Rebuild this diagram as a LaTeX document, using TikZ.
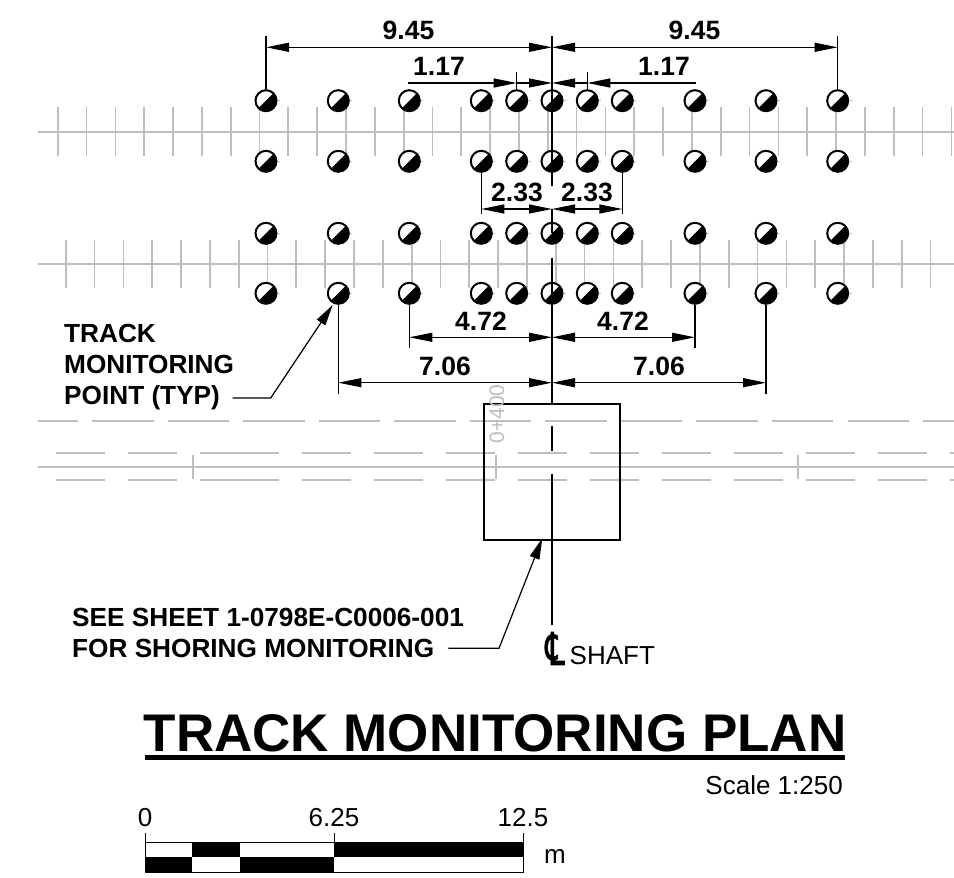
\documentclass[tikz,border=0pt]{standalone}
\usepackage{fontspec}
\setmainfont{Liberation Sans}
\newfontfamily\djv{DejaVu Sans}[FakeBold=2]
\usetikzlibrary{arrows.meta}
\definecolor{trackgray}{HTML}{BEBEBE}
\newcommand{\fs}[1]{\fontsize{#1}{#1}\selectfont}
\tikzset{
  x=1pt,y=-1pt,
  track/.style={draw=trackgray,line width=1.7pt},
  dim/.style={draw=black,line width=1.2pt},
  ext/.style={draw=black,line width=1.4pt},
  dimarrow/.style={dim,-{Triangle[length=23pt,width=9pt]}},
  bothdim/.style={dim,{Triangle[length=23pt,width=9pt]}-{Triangle[length=23pt,width=9pt]}},
  lead/.style={draw=black,line width=1.2pt,-{Triangle[length=21pt,width=10pt]}},
  dimtxt/.style={font=\fs{26.5}\bfseries,inner sep=0pt},
  note/.style={font=\fs{26.2}\bfseries,inner sep=0pt,anchor=base west},
  plain/.style={font=\fs{26},inner sep=0pt},
  marktick/.style={draw=trackgray,line width=0.7pt},
  point/.style={circle,draw=black,line width=2pt,fill=white,minimum size=21pt,inner sep=0pt,
    path picture={\fill[black] (path picture bounding box.south west) -- (path picture bounding box.north east) -- (path picture bounding box.south east) -- cycle;}},
}
\begin{document}
\begin{tikzpicture}
\useasboundingbox (0,0) rectangle (954,878);
% tracks
\foreach \i in {0,...,31}{\draw[track] ({57.7+28.83*\i},107) -- ({57.7+28.83*\i},156);}
\draw[track] (38,131.7) -- (954,131.7);
\foreach \i in {0,...,30}{\draw[track] ({65.7+28.83*\i},240) -- ({65.7+28.83*\i},288);}
\draw[track] (38,264) -- (954,264);
% lower tracks
\draw[track] (38,421) -- (78,421);
\foreach \i in {0,...,10}{\draw[track] ({92+75.55*\i},421) -- ({153.5+75.55*\i},421);}
\draw[track] (923,421) -- (954,421);
\draw[track] (38,467) -- (954,467);
\foreach \y in {453,480}{
  \foreach \a/\b in {56/105,128/177,200/279,302/351,374/423,446/495,518/567,590/639,662/711,734/783,806/855,878/927,950/954}{
    \draw[track] (\a,\y) -- (\b,\y);}
}
\foreach \x in {193.3,496,798.3}{\draw[track] (\x,455) -- (\x,479);}
% shaft box
\node[draw=black,line width=1.7pt,minimum width=136.3pt,minimum height=136pt,inner sep=0pt] (shaft) at (551.85,472) {};
\node[rotate=90,text=trackgray,font=\fs{21},inner sep=0pt] (chain) at (497,414) {0+400};
% monitoring points
\foreach \x [count=\c] in {266,338.3,409.3,481.3,516.7,552,587.3,622.3,695,766,837.7}{
  \foreach \y [count=\r] in {100.7,161.3,233.3,293.3}{
    \node[point] (p\r-\c) at (\x,\y) {};
    \draw[marktick] (p\r-\c.east) -- ++(2.5,0);
  }
}
% centre line
\coordinate (cltop) at (552,35.5);
\coordinate (clgapa) at (552,186);
\coordinate (clb) at (552,209);
\coordinate (clc) at (552,233);
\coordinate (cld) at (552,257.5);
\coordinate (cle) at (552,426);
\coordinate (clf) at (552,451);
\coordinate (clg) at (552,473.5);
\coordinate (clh) at (552,625);
\draw[ext] (cltop) -- (clgapa);
\draw[ext] (clb) -- (clc);
\draw[ext] (cld) -- (shaft.north -| cld);
\draw[ext] (cle) -- (clf);
\draw[ext] (clg) -- (clh);
% 9.45
\coordinate (a1) at (266,47.3); \coordinate (a2) at (552,47.3); \coordinate (a3) at (837.7,47.3);
\draw[ext] (p1-1.north) -- (266,36);
\draw[dim] (p1-11.north) -- (837.7,36);
\draw[bothdim] (a1) -- (a2);
\draw[bothdim] (a2) -- (a3);
\node[dimtxt] (t945a) at (408.5,30.7) {9.45};
\node[dimtxt] (t945b) at (694.5,30.7) {9.45};
% 1.17
\coordinate (b0) at (407.7,83); \coordinate (b1) at (516.7,83); \coordinate (b2) at (552,83);
\coordinate (b3) at (587.3,83); \coordinate (b4) at (696,83);
\draw[dim] (p1-5.north) -- (516.7,71.7);
\draw[dim] (p1-7.north) -- (587.3,71.7);
\draw[dimarrow] (b0) -- (b1);
\draw[dimarrow] (b1) -- (b2);
\draw[dimarrow] (b4) -- (b3);
\draw[dimarrow] (b3) -- (b2);
\node[dimtxt] (t117a) at (439,66.7) {1.17};
\node[dimtxt] (t117b) at (664,66.7) {1.17};
% 2.33
\coordinate (c1) at (481.3,209); \coordinate (c2) at (552,209); \coordinate (c3) at (622.3,209);
\draw[ext] (p2-4.south) -- (481.3,214);
\draw[ext] (p2-8.south) -- (622.3,214);
\draw[bothdim] (c1) -- (c2);
\draw[bothdim] (c2) -- (c3);
\node[dimtxt] (t233a) at (517,192) {2.33};
\node[dimtxt] (t233b) at (587,192) {2.33};
% 4.72
\coordinate (d1) at (409.3,337.3); \coordinate (d2) at (552,337.3); \coordinate (d3) at (695,337.3);
\draw[ext] (p4-3.south) -- (409.3,348);
\draw[ext] (p4-9.south) -- (695,348);
\draw[bothdim] (d1) -- (d2);
\draw[bothdim] (d2) -- (d3);
\node[dimtxt] (t472a) at (481,321) {4.72};
\node[dimtxt] (t472b) at (623,321) {4.72};
% 7.06
\coordinate (e1) at (338.3,382.7); \coordinate (e2) at (552,382.7); \coordinate (e3) at (766,382.7);
\draw[ext] (p4-2.south) -- (338.3,394);
\draw[ext] (p4-10.south) -- (766,394);
\draw[bothdim] (e1) -- (e2);
\draw[bothdim] (e2) -- (e3);
\node[dimtxt] (t706a) at (445,366) {7.06};
\node[dimtxt] (t706b) at (659,366) {7.06};
% notes
\node[note] (n1) at (64,342) {TRACK};
\node[note] (n2) at (64,373) {MONITORING};
\node[note] (n3) at (64,404) {POINT (TYP)};
\coordinate (l1) at (232.7,398); \coordinate (l2) at (270.7,398); \coordinate (l3) at (332.7,305);
\draw[lead] (l1) -- (l2) -- (l3);
\node[note] (n4) at (72,626) {SEE SHEET 1-0798E-C0006-001};
\node[note] (n5) at (72,657) {FOR SHORING MONITORING};
\coordinate (m1) at (448.3,648.3); \coordinate (m2) at (499,648.3); \coordinate (m3) at (542.3,538.3);
\draw[lead] (m1) -- (m2) -- (m3);
% CL
\node[inner sep=0pt,font=\djv\fs{30}] (cl) at (555,648.5) {\scalebox{1}[1.5]{℄}};
\node[plain,anchor=base west] (shafttxt) at (569.5,664) {SHAFT};
% title
\node[inner sep=0pt,font=\fs{53}\bfseries] (title) at (495,733) {TRACK MONITORING PLAN};
\coordinate (u1) at (145,757.5); \coordinate (u2) at (845,757.5);
\draw[black,line width=5pt] (u1) -- (u2);
\node[plain,anchor=east] (scale) at (843,785) {Scale 1:250};
% scale bar
\node[plain] (s0) at (145,818) {0};
\node[plain] (s1) at (334,818) {6.25};
\node[plain] (s2) at (523,818) {12.5};
\node[plain] (sm) at (555,856) {m};
\coordinate (s0t) at (145,833); \coordinate (s1t) at (334,833); \coordinate (s2t) at (523.3,833);
\fill[black] (192,842) rectangle (240,857);
\fill[black] (334,842) rectangle (523.3,857);
\fill[black] (145,857) rectangle (192,872);
\fill[black] (240,857) rectangle (334,872);
\draw[black,line width=1pt] (145,842) rectangle (523.3,872);
\draw[black,line width=1pt] (s0t) -- (145,842);
\draw[black,line width=1pt] (s1t) -- (334,842);
\draw[black,line width=1pt] (s2t) -- (523.3,842);
\end{tikzpicture}
\end{document}
